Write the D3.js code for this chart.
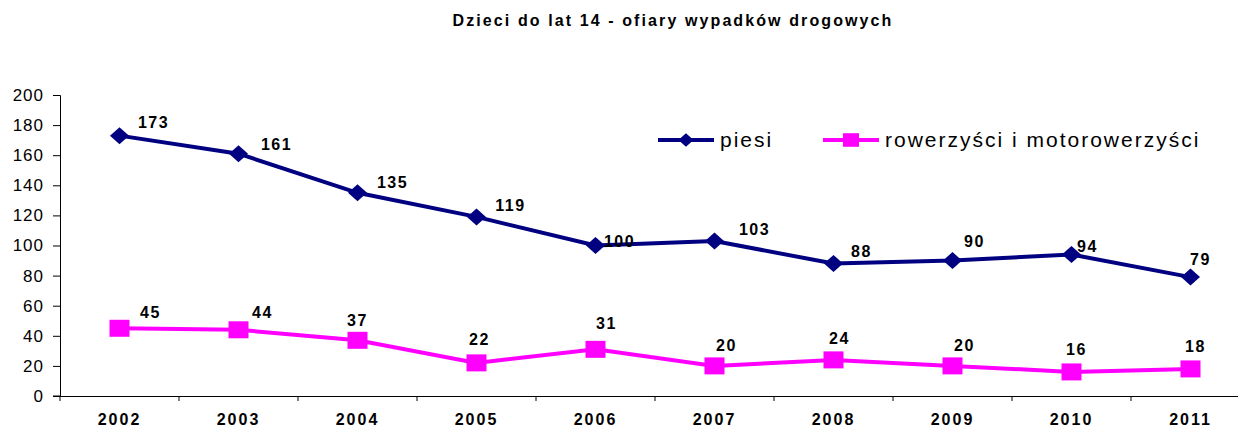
<!DOCTYPE html>
<html>
<head>
<meta charset="utf-8">
<script src="https://cdn.jsdelivr.net/npm/d3@7"></script>
<style>
	body { margin: 0; background: #fff; }
	svg { display: block; font-family: Arial, "Liberation Sans", sans-serif; }
</style>
</head>
<body>
<div id="chart"></div>
<script>
const years = ['2002', '2003', '2004', '2005', '2006', '2007', '2008', '2009', '2010', '2011'];
const piesi = [173, 161, 135, 119, 100, 103, 88, 90, 94, 79];
const rowerzysci = [45, 44, 37, 22, 31, 20, 24, 20, 16, 18];
const yTicks = [0, 20, 40, 60, 80, 100, 120, 140, 160, 180, 200];
const seriesNames = ['piesi', 'rowerzyści i motorowerzyści'];
const titleText = 'Dzieci do lat 14 - ofiary wypadków drogowych';

// label nudges (px) as Excel placed them
const piesiNudge = [[34, -8], [38, -4], [35, -5], [34, -6], [24, 1], [40, -6], [28, -7], [22, -14], [16, -3], [10, -12]];
const rowerNudge = [[31, -10], [24, -12], [0, -14], [3, -18], [11, -20], [12, -15], [6, -16], [12, -15], [5, -17], [5, -17]];

const width = 1238, height = 428;
const margin = {top: 95, right: -12, bottom: 32, left: 60};

const svg = d3.select('#chart')
	.append('svg')
	.attr('width', width)
	.attr('height', height);

const xScale = d3.scaleBand()
	.domain(years)
	.range([margin.left, width - margin.right]);

const yScale = d3.scaleLinear()
	.domain([0, 200])
	.range([height - margin.bottom, margin.top]);

svg.append('text')
	.attr('x', 673)
	.attr('y', 26)
	.attr('text-anchor', 'middle')
	.style('font-size', '16px')
	.style('font-weight', 'bold')
	.style('letter-spacing', '2.1px')
	.text(titleText);

// y axis
const yAxis = svg.append('g')
	.attr('transform', `translate(${margin.left},0)`)
	.call(d3.axisLeft(yScale).tickValues(yTicks).tickSize(7).tickPadding(9));
yAxis.selectAll('text')
	.style('font-size', '17px')
	.style('letter-spacing', '1px')
	.attr('fill', '#000');

// x axis
const xAxis = svg.append('g')
	.attr('transform', `translate(0,${yScale(0)})`)
	.call(d3.axisBottom(xScale).tickSize(0).tickPadding(18));
xAxis.selectAll('text')
	.style('font-size', '16px')
	.style('font-weight', 'bold')
	.style('letter-spacing', '2px')
	.attr('fill', '#000');
xAxis.selectAll('.tick')
	.append('line')
	.attr('x1', -xScale.bandwidth() / 2)
	.attr('x2', -xScale.bandwidth() / 2)
	.attr('y2', 5)
	.attr('stroke', '#000');
svg.append('line')
	.attr('x1', margin.left - 7)
	.attr('x2', margin.left)
	.attr('y1', yScale(0))
	.attr('y2', yScale(0))
	.attr('stroke', '#000');
svg.selectAll('.domain').attr('stroke', '#000');

const cx = d => xScale(d) + xScale.bandwidth() / 2;

const line = d3.line()
	.x((d, i) => cx(years[i]))
	.y(d => yScale(d));

const series = [
	{name: seriesNames[0], values: piesi, color: '#000080', shape: 'diamond', nudge: piesiNudge},
	{name: seriesNames[1], values: rowerzysci, color: '#ff00ff', shape: 'square', nudge: rowerNudge}
];

const symbolPath = s => s.shape === 'diamond'
	? 'M0,-8.5L9.5,0L0,8.5L-9.5,0Z'
	: 'M-10,-8.5H10V8.5H-10Z';

series.forEach(s => {
	svg.append('path')
		.datum(s.values)
		.attr('fill', 'none')
		.attr('stroke', s.color)
		.attr('stroke-width', 4)
		.attr('d', line);

	svg.selectAll(null)
		.data(s.values)
		.enter()
		.append('path')
		.attr('transform', (d, i) => `translate(${cx(years[i])},${yScale(d)})`)
		.attr('d', symbolPath(s))
		.attr('fill', s.color);

	svg.selectAll(null)
		.data(s.values)
		.enter()
		.append('text')
		.attr('x', (d, i) => cx(years[i]) + s.nudge[i][0])
		.attr('y', (d, i) => yScale(d) + s.nudge[i][1])
		.attr('text-anchor', 'middle')
		.style('font-size', '16px')
		.style('font-weight', 'bold')
		.style('letter-spacing', '1.5px')
		.text(d => d);
});

// legend
const legend = svg.append('g')
	.attr('transform', 'translate(658,140)');
const legendX = [0, 165];
series.forEach((s, i) => {
	const g = legend.append('g').attr('transform', `translate(${legendX[i]},0)`);
	g.append('line')
		.attr('x1', 0)
		.attr('x2', 56)
		.attr('stroke', s.color)
		.attr('stroke-width', 4);
	g.append('path')
		.attr('transform', 'translate(28,0) scale(0.8)')
		.attr('d', symbolPath(s))
		.attr('fill', s.color);
	g.append('text')
		.attr('x', 62)
		.attr('y', 7)
		.style('font-size', '21px')
		.style('letter-spacing', '2px')
		.text(s.name);
});
</script>
</body>
</html>
